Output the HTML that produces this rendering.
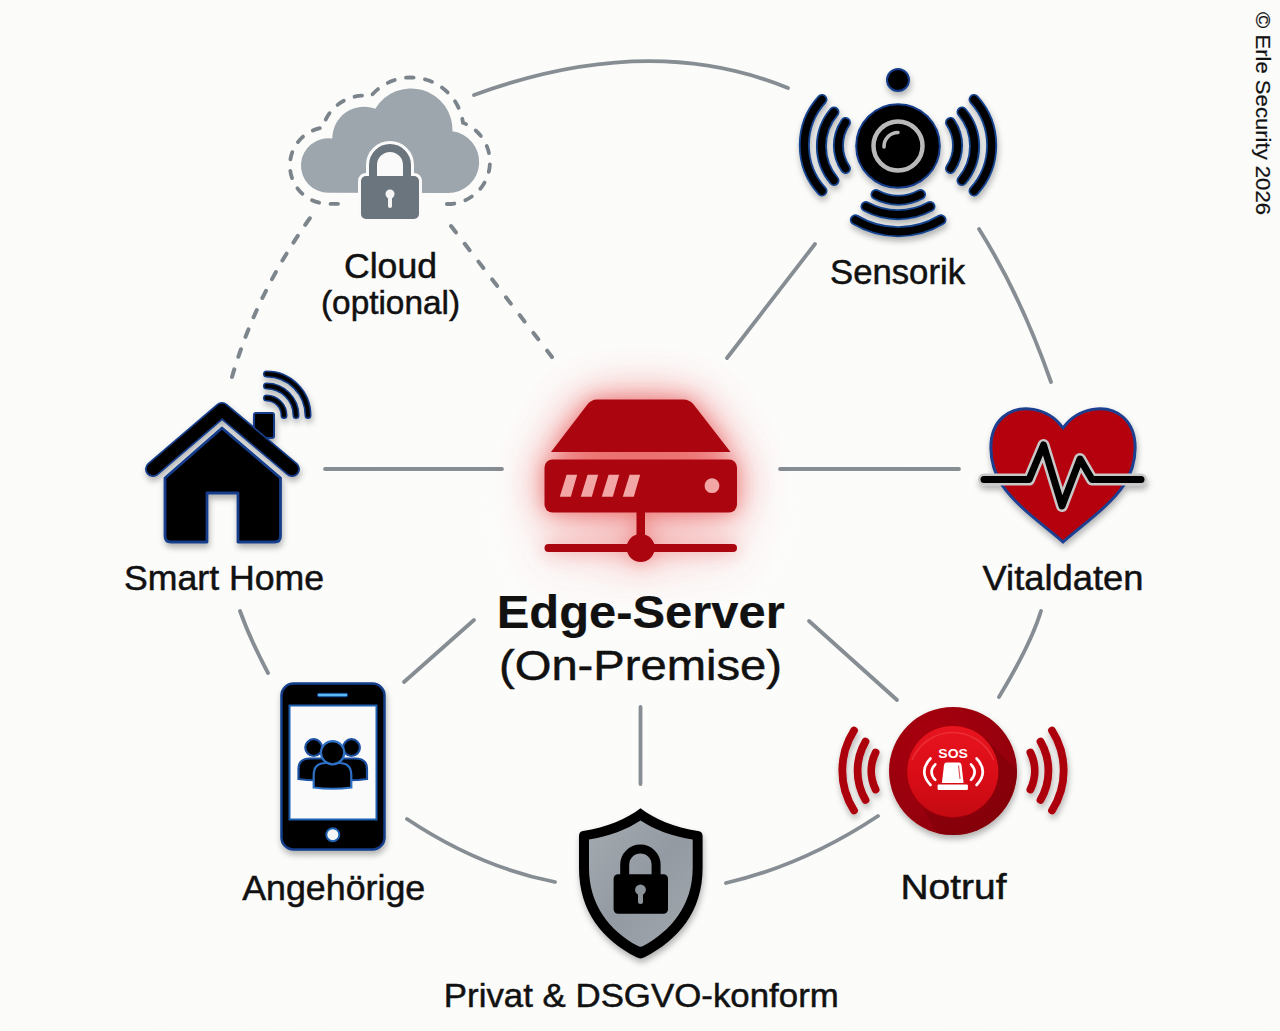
<!DOCTYPE html>
<html><head><meta charset="utf-8">
<style>
html,body{margin:0;padding:0;background:#fcfcfb;}
body{width:1280px;height:1031px;overflow:hidden;}
svg{display:block;}
text{font-family:"Liberation Sans",sans-serif;fill:#111;stroke:#111;stroke-width:0.5px;}
</style></head>
<body>
<svg width="1280" height="1031" viewBox="0 0 1280 1031">
<defs>
  <radialGradient id="bg" cx="50%" cy="50%" r="70%">
    <stop offset="0" stop-color="#fcfcfb"/>
    <stop offset="1" stop-color="#fbfbfa"/>
  </radialGradient>
  <radialGradient id="glow" cx="50%" cy="50%" r="50%">
    <stop offset="0" stop-color="#e85a5a" stop-opacity="0.75"/>
    <stop offset="0.55" stop-color="#f08080" stop-opacity="0.45"/>
    <stop offset="1" stop-color="#f8c8c8" stop-opacity="0"/>
  </radialGradient>
  <filter id="sh" x="-20%" y="-20%" width="140%" height="140%">
    <feDropShadow dx="1" dy="4" stdDeviation="3.2" flood-color="#000" flood-opacity="0.3"/>
  </filter>
  <filter id="blur8" x="-50%" y="-50%" width="200%" height="200%">
    <feGaussianBlur stdDeviation="14"/>
  </filter>
  <radialGradient id="sosRing" cx="35%" cy="30%" r="80%">
    <stop offset="0" stop-color="#aa000c"/>
    <stop offset="1" stop-color="#8e0008"/>
  </radialGradient>
  <linearGradient id="sosBtn" x1="0" y1="0" x2="0" y2="1">
    <stop offset="0" stop-color="#e8141e"/>
    <stop offset="0.6" stop-color="#d80c16"/>
    <stop offset="1" stop-color="#c40a12"/>
  </linearGradient>
  <clipPath id="sosClip"><circle cx="953" cy="771" r="64"/></clipPath>
  <g id="srvShape">
    <path d="M597,399.5 H683 Q690,399.5 694,405 L730.5,452 H551 L587,405 Q591,399.5 597,399.5 Z"/>
    <rect x="544.5" y="459.5" width="192.5" height="53" rx="8"/>
    <rect x="636.5" y="510" width="8.5" height="30"/>
    <rect x="544.5" y="544" width="192.5" height="8" rx="4"/>
    <circle cx="640.7" cy="548" r="14"/>
  </g>
  <filter id="glowBig" x="-50%" y="-50%" width="200%" height="200%"><feGaussianBlur stdDeviation="24"/></filter>
  <filter id="glowSmall" x="-50%" y="-50%" width="200%" height="200%"><feGaussianBlur stdDeviation="9"/></filter>
  <linearGradient id="shieldFill" x1="0" y1="0" x2="1" y2="1">
    <stop offset="0" stop-color="#a3aab0"/>
    <stop offset="0.5" stop-color="#939aa1"/>
    <stop offset="1" stop-color="#a0a7ad"/>
  </linearGradient>
</defs>
<rect width="1280" height="1031" fill="url(#bg)"/>

<!-- connection lines -->
<g fill="none" stroke="#868d93" stroke-width="3.8" stroke-linecap="round">
  <path d="M474,95 Q649,31 788,88"/>
  <path d="M979,229 Q1021,296 1051,382"/>
  <path d="M1041,611 Q1031,644 999,697"/>
  <path d="M878,816 Q804,865 726,883"/>
  <path d="M555,882 Q479,867 407,819"/>
  <path d="M240,611 Q250,639 268,673"/>
  <path d="M325,469 L502,469"/>
  <path d="M780,469 L959,469"/>
  <path d="M815,244 L727,358"/>
  <path d="M474,620 L404,682"/>
  <path d="M809,621 L897,700"/>
  <path d="M640.5,707 L640.5,784"/>
</g>
<g fill="none" stroke="#7d868c" stroke-width="4" stroke-linecap="round">
  <path d="M232,377 Q256,294 310,218" stroke-dasharray="8 13.2"/>
  <path d="M451,226 L552,357" stroke-dasharray="8 14.5"/>
</g>

<!-- Cloud -->
<g id="cloud">
  <path d="M328.5,192.8 A27.3,27.3 0 1,1 332.3,138.5 A31.7,31.7 0 0,1 375.3,108.8 A41.5,41.5 0 0,1 452.5,131.3 A31.0,31.0 0 0,1 448.0,193.0 Z" fill="#9ea6ad"/>
  <path d="M338,203.8 L328.5,203.8 A38.3,38.3 0 0,1 322.7,127.6 A42.7,42.7 0 0,1 370.8,96.2 A52.5,52.5 0 0,1 463.0,122.8 A42.0,42.0 0 0,1 448.0,204.0 L441,204" fill="none" stroke="#7b848b" stroke-width="3.8" stroke-linecap="round" stroke-dasharray="7.5 11.5"/>
  <!-- lock white outline -->
  <g stroke="#fafafa" stroke-width="6" fill="#fafafa">
    <path d="M373,176 V165 A17,17 0 0 1 407,165 V176 Z" stroke-width="14"/>
    <rect x="361" y="176" width="58" height="43" rx="5"/>
  </g>
  <path d="M373,178 V165 A17,17 0 0 1 407,165 V178" fill="none" stroke="#6b757d" stroke-width="8"/>
  <rect x="361" y="176" width="58" height="43" rx="5" fill="#6b757d"/>
  <circle cx="390" cy="194" r="4.5" fill="#f5f5f5"/>
  <path d="M390,194 V206" stroke="#f5f5f5" stroke-width="4" stroke-linecap="round"/>
</g>
<text x="390.5" y="277.5" font-size="35.5" text-anchor="middle" textLength="93" lengthAdjust="spacingAndGlyphs">Cloud</text>
<text x="390.5" y="314.2" font-size="33" text-anchor="middle" textLength="139" lengthAdjust="spacingAndGlyphs">(optional)</text>

<!-- Sensor -->
<g id="sensor" filter="url(#sh)">
  <g fill="none" stroke-linecap="round">
    <g stroke="#174590" stroke-width="11">
      <path d="M822,99.5 A68,68 0 0 0 822,191"/>
      <path d="M834,112 A52.9,52.9 0 0 0 834,180.5"/>
      <path d="M845.5,122.5 A40.8,40.8 0 0 0 845.5,168.5"/>
      <path d="M974,99.5 A68,68 0 0 1 974,191"/>
      <path d="M962,112 A52.9,52.9 0 0 1 962,180.5"/>
      <path d="M950.5,122.5 A40.8,40.8 0 0 1 950.5,168.5"/>
      <path d="M876,194.5 A46.3,46.3 0 0 0 920.5,194.5"/>
      <path d="M866,206.5 A66.5,66.5 0 0 0 930,206.5"/>
      <path d="M855.3,219.8 A83.1,83.1 0 0 0 941,219.8"/>
    </g>
    <g stroke="#000" stroke-width="7.4">
      <path d="M822,99.5 A68,68 0 0 0 822,191"/>
      <path d="M834,112 A52.9,52.9 0 0 0 834,180.5"/>
      <path d="M845.5,122.5 A40.8,40.8 0 0 0 845.5,168.5"/>
      <path d="M974,99.5 A68,68 0 0 1 974,191"/>
      <path d="M962,112 A52.9,52.9 0 0 1 962,180.5"/>
      <path d="M950.5,122.5 A40.8,40.8 0 0 1 950.5,168.5"/>
      <path d="M876,194.5 A46.3,46.3 0 0 0 920.5,194.5"/>
      <path d="M866,206.5 A66.5,66.5 0 0 0 930,206.5"/>
      <path d="M855.3,219.8 A83.1,83.1 0 0 0 941,219.8"/>
    </g>
  </g>
  <circle cx="898" cy="80" r="11" fill="#000" stroke="#143d8a" stroke-width="2"/>
  <circle cx="898" cy="146" r="41.8" fill="#000" stroke="#143d8a" stroke-width="2"/>
  <circle cx="898" cy="146" r="24.5" fill="none" stroke="#b9b9b9" stroke-width="4.5"/>
  <path d="M884,147 A14,14 0 0 1 898,132.5" fill="none" stroke="#b9b9b9" stroke-width="3.5" stroke-linecap="round"/>
</g>
<text x="897.5" y="283.5" font-size="35" text-anchor="middle" textLength="135" lengthAdjust="spacingAndGlyphs">Sensorik</text>

<!-- House -->
<g id="house" filter="url(#sh)">
  <g fill="none" stroke-linecap="round" stroke-linejoin="round">
    <path d="M266.5,374 A41.5,41.5 0 0 1 308,415.5" stroke="#123c86" stroke-width="7"/>
    <path d="M266.5,386 A29.5,29.5 0 0 1 296,415.5" stroke="#123c86" stroke-width="7"/>
    <path d="M266.5,398 A17.5,17.5 0 0 1 284,415.5" stroke="#123c86" stroke-width="7"/>
    <path d="M266.5,374 A41.5,41.5 0 0 1 308,415.5" stroke="#000" stroke-width="4"/>
    <path d="M266.5,386 A29.5,29.5 0 0 1 296,415.5" stroke="#000" stroke-width="4"/>
    <path d="M266.5,398 A17.5,17.5 0 0 1 284,415.5" stroke="#000" stroke-width="4"/>
  </g>
  <rect x="254" y="413" width="20" height="25" rx="2" fill="#000" stroke="#143d8a" stroke-width="2"/>
  <path d="M153,469 L222,410 L292,469" fill="none" stroke="#143d8a" stroke-width="16" stroke-linecap="round" stroke-linejoin="round"/>
  <path d="M153,469 L222,410 L292,469" fill="none" stroke="#000" stroke-width="12.5" stroke-linecap="round" stroke-linejoin="round"/>
  <path d="M165,478 L222,428 L280.5,478 V536 Q280.5,542 274.5,542 H238 V493 H207 V542 H171 Q165,542 165,536 Z" fill="#000" stroke="#143d8a" stroke-width="2.8" stroke-linejoin="round"/>
</g>
<text x="224" y="589.5" font-size="35" text-anchor="middle" textLength="200" lengthAdjust="spacingAndGlyphs">Smart Home</text>

<!-- Server -->
<g id="server">
  <use href="#srvShape" fill="#e84a4a" filter="url(#glowBig)" opacity="0.75"/>
  <use href="#srvShape" fill="#e44040" filter="url(#glowSmall)" opacity="0.45"/>
  <use href="#srvShape" fill="#ab0610"/>
  <g fill="#f2a6a6">
    <path d="M566.6,474.7 H577.2 L570.8,496.8 H559.8 Z"/>
    <path d="M587.6,474.7 H598.2 L591.8,496.8 H580.8 Z"/>
    <path d="M608.6,474.7 H619.2 L612.8,496.8 H601.8 Z"/>
    <path d="M629.6,474.7 H640.2 L633.8,496.8 H622.8 Z"/>
    <circle cx="712" cy="485.7" r="7.4"/>
  </g>
</g>
<text x="640.7" y="628" font-size="46" font-weight="bold" style="stroke-width:0.2px" text-anchor="middle" textLength="288" lengthAdjust="spacingAndGlyphs">Edge-Server</text>
<text x="640.5" y="679.5" font-size="43" text-anchor="middle" textLength="283" lengthAdjust="spacingAndGlyphs">(On-Premise)</text>

<!-- Heart -->
<g id="heart" filter="url(#sh)">
  <path d="M1063,428 C1048,407 1019,403 1003,417 C986,432 988,463 1002,485 C1017,507 1045,526 1063,542 C1081,526 1109,507 1124,485 C1138,463 1140,432 1123,417 C1107,403 1078,407 1063,428 Z" fill="#b5000c" stroke="#1f3f8f" stroke-width="3"/>
  <path d="M984,479.6 H1029 L1043.5,445 L1062,506 L1080,459 L1092,479.6 H1141" fill="none" stroke="#c8c8c8" stroke-width="12" stroke-linecap="round" stroke-linejoin="round"/>
  <path d="M984,479.6 H1029 L1043.5,445 L1062,506 L1080,459 L1092,479.6 H1141" fill="none" stroke="#000" stroke-width="7" stroke-linecap="round" stroke-linejoin="round"/>
</g>
<text x="1063" y="590" font-size="35" text-anchor="middle" textLength="161" lengthAdjust="spacingAndGlyphs">Vitaldaten</text>

<!-- Phone -->
<g id="phone" filter="url(#sh)">
  <rect x="281.5" y="683.5" width="103" height="166" rx="12" fill="#000" stroke="#143d8a" stroke-width="2.5"/>
  <rect x="289.5" y="705.5" width="87" height="114" fill="#fafafa" stroke="#1d5fb0" stroke-width="2"/>
  <path d="M319,695 H346" stroke="#123c86" stroke-width="4.5" stroke-linecap="round"/><path d="M319,695 H346" stroke="#5ab8f2" stroke-width="2.4" stroke-linecap="round"/>
  <circle cx="332.8" cy="834.7" r="6.5" fill="#f6f6f6" stroke="#1d5fb0" stroke-width="2"/>
  <g fill="#000" stroke="#1a4fa0" stroke-width="2.2">
    <path d="M298.5,779 V769 Q298.5,758.5 310,758.5 H322 Q333,758.5 333,769 V779 Q316,781.5 298.5,779 Z"/>
    <path d="M332,779 V769 Q332,758.5 343,758.5 H355.5 Q367,758.5 367,769 V779 Q349,781.5 332,779 Z"/>
    <circle cx="313.7" cy="747.6" r="8.4"/>
    <circle cx="351.5" cy="747.6" r="8.4"/>
  </g>
  <g fill="#000" stroke="#2f6fc4" stroke-width="2.2">
    <path d="M313.7,787.5 V775 Q313.7,763 326,763 H339 Q351.3,763 351.3,775 V787.5 Q332.5,790 313.7,787.5 Z"/>
    <circle cx="332.6" cy="752.7" r="11.6"/>
  </g>
</g>
<text x="333.7" y="900" font-size="35" text-anchor="middle" textLength="183" lengthAdjust="spacingAndGlyphs">Angehörige</text>

<!-- Shield -->
<g id="shield" filter="url(#sh)">
  <path d="M640.5,808.2 C628,818 606,828 583,831 Q579,831.5 579,836 V868 C579,912 603,940 636.5,957.3 Q640.5,959.5 644.5,957.3 C678,940 702.6,912 702.6,868 V836 Q702.6,831.5 698,831 C675,828 653,818 640.5,808.2 Z" fill="#000"/>
  <path d="M640.5,820.6 C628,829 608,837 589,839.6 V868 C589,905 610,931 637.5,945.8 Q640.5,947.8 643.5,945.8 C671,931 692.7,905 692.7,868 V839.6 C673,837 653,829 640.5,820.6 Z" fill="url(#shieldFill)"/>
  <path d="M624.7,877 V864.7 A15.7,15.7 0 0 1 656.1,864.7 V877" fill="none" stroke="#000" stroke-width="9"/>
  <rect x="613.6" y="874.2" width="54.4" height="39.5" rx="4.5" fill="#000"/>
  <circle cx="640.5" cy="889.8" r="5.4" fill="#8c949a"/>
  <path d="M640.5,890 V901.5" stroke="#8c949a" stroke-width="5" stroke-linecap="round"/>
</g>
<text x="641.3" y="1007" font-size="34" text-anchor="middle" textLength="395" lengthAdjust="spacingAndGlyphs">Privat &amp; DSGVO-konform</text>

<!-- SOS -->
<g id="sos">
  <g fill="none" stroke="#ad000c" stroke-width="7.8" stroke-linecap="round" filter="url(#sh)">
    <path d="M854,730.5 A74.3,74.3 0 0 0 854,810.5"/>
    <path d="M865.5,741.5 A58,58 0 0 0 865.5,800"/>
    <path d="M875.6,752.5 A42,42 0 0 0 875.6,789.5"/>
    <path d="M1052,730.5 A74.3,74.3 0 0 1 1052,810.5"/>
    <path d="M1040.5,741.5 A58,58 0 0 1 1040.5,800"/>
    <path d="M1030.4,752.5 A42,42 0 0 1 1030.4,789.5"/>
  </g>
  <g filter="url(#sh)">
  <circle cx="953" cy="771" r="64" fill="url(#sosRing)"/>
  </g>
  <path d="M920.5,802.8 L985.2,738.6 L1030,783 L985,850 L940,840 Z" fill="#7e0008" clip-path="url(#sosClip)" opacity="0.6"/>
  <circle cx="952.8" cy="772.5" r="45.5" fill="#a8000a" opacity="0.8"/>
  <circle cx="952.8" cy="771.4" r="45.5" fill="url(#sosBtn)"/>
  <path d="M912,760 A44,44 0 0 1 993.6,760" fill="none" stroke="#f04048" stroke-width="1.6" opacity="0.6"/>
  <text x="953.1" y="757.6" font-size="13.6" font-weight="bold" text-anchor="middle" textLength="29.6" lengthAdjust="spacingAndGlyphs" style="fill:#fff;stroke:none">SOS</text>
  <path d="M944,765 Q944.3,762.6 947,762.6 H958.5 Q961.2,762.6 961.5,765 L963.6,783 H941.9 Z" fill="#fff"/>
  <path d="M958.5,765.5 L960,779" stroke="#d0101a" stroke-width="1.2" opacity="0.7"/>
  <rect x="937.6" y="784.4" width="30.3" height="5.6" rx="1" fill="#fff"/>
  <g fill="none" stroke="#fff" stroke-width="2.6" stroke-linecap="round">
    <path d="M930.5,758.5 Q918,771.7 930.5,785"/>
    <path d="M935.3,764.3 Q927.8,772 935.3,779.8"/>
    <path d="M976.6,758.5 Q989,771.7 976.6,785"/>
    <path d="M971,764.3 Q978.3,772 971,779.8"/>
  </g>
</g>
<text x="953.5" y="899.3" font-size="35" text-anchor="middle" textLength="106" lengthAdjust="spacingAndGlyphs">Notruf</text>

<!-- copyright -->
<text transform="translate(1255.5,12) rotate(90)" font-size="20" style="stroke-width:0.2px" textLength="203" lengthAdjust="spacingAndGlyphs">© Erle Security 2026</text>
</svg>
</body></html>
